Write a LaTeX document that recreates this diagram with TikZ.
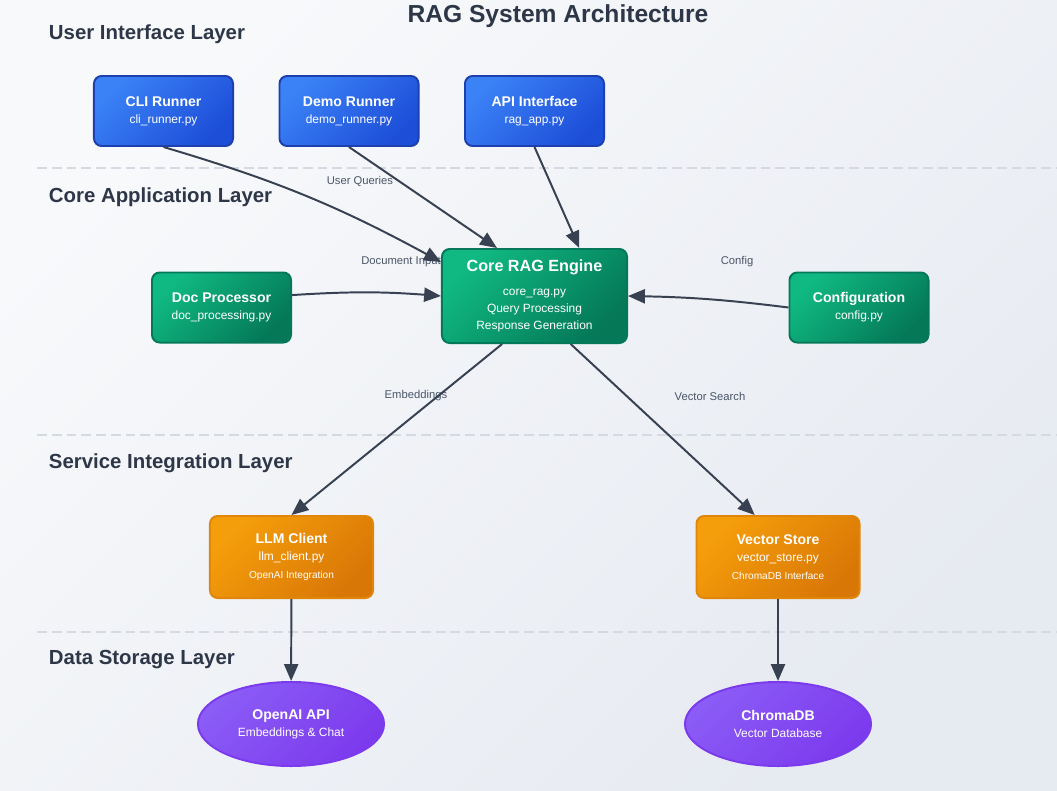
\documentclass[tikz,border=0pt]{standalone}
\usepackage{fontspec}
\setmainfont{Liberation Sans}
\usetikzlibrary{arrows.meta,shapes.geometric}
\definecolor{bgtop}{HTML}{F8F9FB}
\definecolor{bgbot}{HTML}{E6EAF1}
\definecolor{ink}{HTML}{2D3748}
\definecolor{edgec}{HTML}{374151}
\definecolor{lblc}{HTML}{4A5568}
\definecolor{sepc}{HTML}{D5DAE2}
\definecolor{bluetop}{HTML}{3B82F6}
\definecolor{bluebot}{HTML}{1D4ED8}
\definecolor{blueline}{HTML}{1E40AF}
\definecolor{greentop}{HTML}{10B981}
\definecolor{greenbot}{HTML}{047857}
\definecolor{greenline}{HTML}{06785A}
\definecolor{orangetop}{HTML}{F59E0B}
\definecolor{orangebot}{HTML}{D97706}
\definecolor{orangeline}{HTML}{E0860A}
\definecolor{purpletop}{HTML}{8B5CF6}
\definecolor{purplebot}{HTML}{7C3AED}
\definecolor{purpleline}{HTML}{7C3AED}
\tikzset{
	box/.style={rounded corners=5.5pt,line width=1.4pt,text=white,align=center,
		font=\fontsize{8.5}{12}\selectfont,minimum width=3.475cm,minimum height=1.75cm},
	ui/.style={box,draw=blueline,top color=bluetop,bottom color=bluebot,shading angle=45},
	core/.style={box,draw=greenline,top color=greentop,bottom color=greenbot,shading angle=45},
	svc/.style={box,draw=orangeline,top color=orangetop,bottom color=orangebot,shading angle=45,
		minimum width=4.075cm,minimum height=2.05cm},
	store/.style={ellipse,line width=1.4pt,text=white,align=center,draw=purpleline,
		top color=purpletop,bottom color=purplebot,shading angle=45,
		font=\fontsize{8.5}{12}\selectfont,minimum width=4.65cm,minimum height=2.1cm,inner sep=0pt},
	layer/.style={anchor=west,text=ink,font=\fontsize{14.5}{17}\selectfont\bfseries},
	elabel/.style={text=lblc,font=\fontsize{8}{10}\selectfont},
	flow/.style={draw=edgec,line width=1.4pt,-{Triangle[length=12pt,width=10pt]}},
	sep/.style={draw=sepc,line width=1.4pt,dash pattern=on 7pt off 3.5pt}
}
\newcommand{\ttl}[1]{{\fontsize{10}{12}\selectfont\bfseries #1}}
\newcommand{\sub}[1]{{\fontsize{7.2}{12}\selectfont #1}}
\begin{document}
\begin{tikzpicture}[x=0.025cm,y=-0.025cm]
	\shade[top color=bgtop,bottom color=bgbot,shading angle=45] (0,0) rectangle (1057,790);
	\useasboundingbox (0,0) rectangle (1057,790);

	\node[text=ink,font=\fontsize{17.5}{20}\selectfont\bfseries] (title) at (558,16) {RAG System Architecture};
	\node[layer] (l-ui) at (44,34) {User Interface Layer};
	\node[layer] (l-core) at (44,197) {Core Application Layer};
	\node[layer] (l-svc) at (44,463) {Service Integration Layer};
	\node[layer] (l-data) at (44,660) {Data Storage Layer};
	\foreach \y in {168,435,632}
		\draw[sep] (37,\y) -- (1057,\y);

	\node[ui] (cli) at (163.5,111) {\ttl{CLI Runner}\\cli\_runner.py};
	\node[ui] (demo) at (349,111) {\ttl{Demo Runner}\\demo\_runner.py};
	\node[ui] (api) at (534.5,111) {\ttl{API Interface}\\rag\_app.py};

	\node[core] (doc) at (221.5,307.5) {\ttl{Doc Processor}\\doc\_processing.py};
	\node[core,minimum width=4.625cm,minimum height=2.35cm] (engine) at (534.5,296)
		{{\fontsize{11.5}{12}\selectfont\bfseries Core RAG Engine}\\[5pt]core\_rag.py\\Query Processing\\Response Generation};
	\node[core] (config) at (859,307.5) {\ttl{Configuration}\\config.py};

	\node[svc] (llm) at (291.5,557) {\ttl{LLM Client}\\llm\_client.py\\[1pt]\sub{OpenAI Integration}};
	\node[svc] (vstore) at (778,557) {\ttl{Vector Store}\\vector\_store.py\\[1pt]\sub{ChromaDB Interface}};

	\node[store] (openai) at (291,724) {\ttl{OpenAI API}\\Embeddings \& Chat};
	\node[store] (chroma) at (778,724) {\ttl{ChromaDB}\\Vector Database};

	\node[elabel] (q-lab) at (360,181) {User Queries};
	\node[elabel] (d-lab) at (401,262) {Document Input};
	\node[elabel] (c-lab) at (737,262) {Config};
	\node[elabel] (e-lab) at (416,396) {Embeddings};
	\node[elabel] (v-lab) at (710,396) {Vector Search};

	\draw[flow] (cli.south) to[bend left=6] (engine.160);
	\draw[flow] (demo.south) -- (engine.128);
	\draw[flow] (api.south) -- (engine.47);
	\draw[flow] (doc.10) to[bend left=4] (engine.west);
	\draw[flow] (config.west) to[bend right=3] (engine.east);
	\draw[flow] (engine.236) -- (llm.north);
	\draw[flow] (engine.307) -- (vstore.119);
	\draw[flow] (llm) -- (openai);
	\draw[flow] (vstore) -- (chroma);
\end{tikzpicture}
\end{document}
